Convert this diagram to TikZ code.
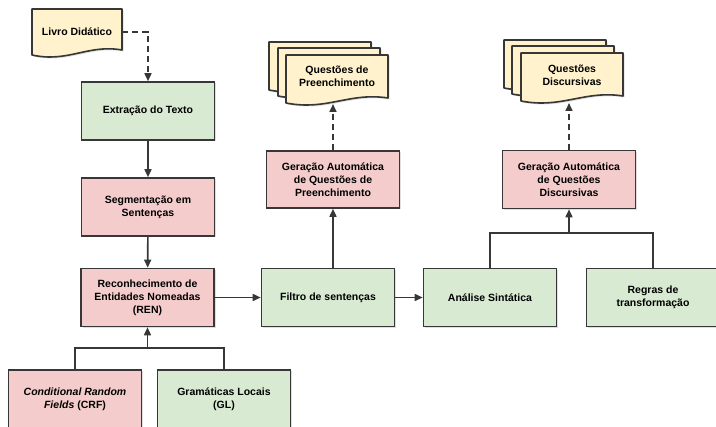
\documentclass[tikz,border=0pt]{standalone}
\usepackage{fontspec}
\setmainfont{Liberation Sans}
\usetikzlibrary{arrows.meta,shadows}
\definecolor{gfill}{RGB}{217,234,211}
\definecolor{pfill}{RGB}{244,204,204}
\definecolor{yfill}{RGB}{255,242,204}
\definecolor{edgec}{RGB}{55,55,55}
\tikzset{
 shd/.style={drop shadow={shadow xshift=1.5pt, shadow yshift=-1.5pt, opacity=0.25}},
 box/.style={draw=edgec, line width=1.6pt, minimum width=133pt, minimum height=58pt, align=center, font=\bfseries\fontsize{10.5}{13}\selectfont, inner sep=0pt, shd},
 gbox/.style={box, fill=gfill},
 pbox/.style={box, fill=pfill},
 conn/.style={draw=edgec, line width=1.6pt, -{Triangle[length=8pt,width=7pt]}},
 ln/.style={draw=edgec, line width=1.6pt},
 dconn/.style={conn, dash pattern=on 6pt off 4pt},
 docsh/.style={draw=edgec, line width=1.6pt, fill=yfill, line join=round, shd},
 txt/.style={align=center, font=\bfseries\fontsize{10.5}{13}\selectfont, inner sep=0pt},
}
\newcommand{\docpath}[4]{%
 \path[docsh] (#1,#2) -- ({#1+#3},#2) -- ({#1+#3},{#2+#4-5}) .. controls ({#1+0.62*#3},{#2+#4-11}) and ({#1+0.4*#3},{#2+#4+8}) .. (#1,{#2+#4}) -- cycle;}
\begin{document}
\begin{tikzpicture}[x=1pt,y=-1pt]
\useasboundingbox (0,0) rectangle (716,427);
\clip (0,0) rectangle (716,427);
% documents
\docpath{32}{9}{90}{46}
\node[txt, minimum width=90pt, minimum height=44pt] (livro) at (77,32) {Livro Didático};
\docpath{269}{42}{102}{48}
\docpath{278}{48}{102}{48}
\docpath{286}{55}{102}{48}
\node[txt] (qpre) at (337,76) {Questões de\\Preenchimento};
\coordinate (qpreB) at (332,104);
\docpath{504}{40}{102}{48}
\docpath{512}{46}{102}{48}
\docpath{521}{53}{102}{48}
\node[txt] (qdisc) at (572,75) {Questões\\Discursivas};
\coordinate (qdiscB) at (568,103);
% boxes
\node[gbox] (extr) at (148,111) {Extração do Texto};
\node[pbox] (seg) at (148,207) {Segmentação em\\Sentenças};
\node[pbox] (ren) at (147.5,297.5) {Reconhecimento de\\Entidades Nomeadas\\(REN)};
\node[gbox] (filtro) at (328,297.5) {Filtro de sentenças};
\node[gbox] (ana) at (490,297.5) {Análise Sintática};
\node[gbox] (regras) at (653,297.5) {Regras de\\transformação};
\node[pbox, minimum height=57pt] (gpre) at (333,179.5) {Geração Automática\\de Questões de\\Preenchimento};
\node[pbox] (gdisc) at (569,179.5) {Geração Automática\\de Questões\\Discursivas};
\node[pbox] (crf) at (75,399) {\textit{Conditional Random}\\\textit{Fields} (CRF)};
\node[gbox] (gl) at (224,399) {Gramáticas Locais\\(GL)};
% connectors
\draw[dconn] (livro.east) -| (extr.north);
\draw[conn] (extr) -- (seg);
\draw[conn] (seg) -- (ren);
\draw[conn] (ren) -- (filtro);
\draw[conn] (filtro) -- (ana);
\coordinate (j1) at (147.5,348);
\draw[ln] (crf.north) |- (j1) -| (gl.north);
\draw[conn] (j1) -- (ren.south);
\draw[conn] (gpre.south |- filtro.north) -- (gpre.south);
\draw[dconn] (gpre.north) -- (gpre.north |- qpreB);
\coordinate (j2) at (569,233);
\draw[ln] (ana.north) |- (j2) -| (regras.north);
\draw[conn] (j2) -- (gdisc.south);
\draw[dconn] (gdisc.north) -- (gdisc.north |- qdiscB);
\end{tikzpicture}
\end{document}
